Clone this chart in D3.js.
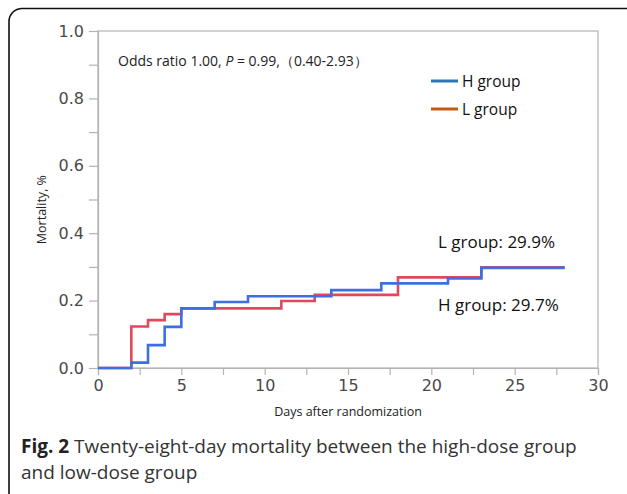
<!DOCTYPE html>
<html>
<head>
<meta charset="utf-8">
<script src="https://cdn.jsdelivr.net/npm/d3@7"></script>
<style>
  body { margin: 0; background: #fff; }
  svg { display: block; }
</style>
</head>
<body>
<div id="chart"></div>
<script>
// step data (day, cumulative mortality)
const hDays = [0, 2, 3, 4, 5, 7, 9, 14, 17, 21, 23, 28];
const hVals = [0, 0.016, 0.068, 0.122, 0.177, 0.196, 0.213, 0.231, 0.251, 0.266, 0.297, 0.297];
const lDays = [0, 2, 3, 4, 5, 11, 13, 18, 23, 28];
const lVals = [0, 0.123, 0.142, 0.160, 0.177, 0.199, 0.217, 0.269, 0.299, 0.299];
const yTicks = [0, 0.2, 0.4, 0.6, 0.8, 1.0];
const xTicks = [0, 5, 10, 15, 20, 25, 30];

const width = 627, height = 494;

let svg = d3.select("#chart").append("svg")
  .attr("width", width)
  .attr("height", height);

// outer rounded frame (runs off the right and bottom edges)
svg.append("rect")
  .attr("x", 9).attr("y", 8.5)
  .attr("width", 660).attr("height", 500)
  .attr("rx", 13)
  .attr("fill", "none")
  .attr("stroke", "#111")
  .attr("stroke-width", 1.6);

let x = d3.scaleLinear().domain([0, 30]).range([98, 598]);
let y = d3.scaleLinear().domain([0, 1]).range([368, 31]);

// plot frame
svg.append("rect")
  .attr("x", x(0)).attr("y", y(1))
  .attr("width", x(30) - x(0)).attr("height", y(0) - y(1))
  .attr("fill", "none")
  .attr("stroke", "#b3b3b3")
  .attr("stroke-width", 1.2);

let yAxis = d3.axisLeft(y)
  .tickValues(d3.range(0, 1.01, 0.1))
  .tickSize(9)
  .tickFormat(d => yTicks.some(t => Math.abs(t - d) < 1e-6) ? d3.format(".1f")(d) : "");

let gy = svg.append("g")
  .attr("transform", `translate(${x(0)},0)`)
  .call(yAxis);

let xAxis = d3.axisBottom(x)
  .tickValues(d3.range(0, 30.01, 2.5))
  .tickSize(7)
  .tickFormat(d => xTicks.includes(d) ? d : "");

let gx = svg.append("g")
  .attr("transform", `translate(0,${y(0)})`)
  .call(xAxis);

[gx, gy].forEach(g => {
  g.select(".domain").attr("stroke", "#b3b3b3").attr("stroke-width", 1.2);
  g.selectAll(".tick line").attr("stroke", "#b3b3b3").attr("stroke-width", 1.2);
  g.selectAll(".tick text")
    .attr("fill", "#4a4a4a")
    .style("font-family", "DejaVu Sans, sans-serif")
    .style("font-size", "16px");
});
gy.selectAll(".tick text").attr("x", -14);
gx.selectAll(".tick text").attr("y", 12);

// axis titles
svg.append("text")
  .attr("x", x(15)).attr("y", 416)
  .attr("text-anchor", "middle")
  .attr("fill", "#222")
  .style("font-family", "Open Sans, sans-serif")
  .style("font-size", "12.5px")
  .text("Days after randomization");

svg.append("text")
  .attr("transform", `translate(46,${y(0.47)}) rotate(-90)`)
  .attr("text-anchor", "middle")
  .attr("fill", "#222")
  .style("font-family", "Open Sans, sans-serif")
  .style("font-size", "12.5px")
  .text("Mortality, %");

// step curves
let line = d3.line()
  .x(d => x(d[0]))
  .y(d => y(d[1]))
  .curve(d3.curveStepAfter);

svg.append("path")
  .datum(d3.zip(lDays, lVals))
  .attr("d", line)
  .attr("fill", "none")
  .attr("stroke", "#e2475b")
  .attr("stroke-width", 2.6);

svg.append("path")
  .datum(d3.zip(hDays, hVals))
  .attr("d", line)
  .attr("fill", "none")
  .attr("stroke", "#3d6fe2")
  .attr("stroke-width", 2.6);

// odds ratio note
let note = svg.append("text")
  .attr("x", 118).attr("y", 66)
  .attr("fill", "#222")
  .style("font-family", "Open Sans, sans-serif")
  .style("font-size", "14px");
note.append("tspan").text("Odds ratio 1.00, ");
note.append("tspan").style("font-style", "italic").text("P");
note.append("tspan").text(" = 0.99,（0.40-2.93）");

// legend
const legend = [
  { name: "H group", color: "#2e75b6" },
  { name: "L group", color: "#c55a11" }
];
let lg = svg.selectAll(".legend")
  .data(legend)
  .enter()
  .append("g")
  .attr("class", "legend")
  .attr("transform", (d, i) => `translate(431, ${81 + i * 28})`);
lg.append("line")
  .attr("x1", 0).attr("x2", 27)
  .attr("stroke", d => d.color)
  .attr("stroke-width", 3);
lg.append("text")
  .attr("x", 31).attr("dy", "0.36em")
  .attr("fill", "#111")
  .style("font-family", "Open Sans, sans-serif")
  .style("font-size", "15.5px")
  .text(d => d.name);

// end labels
svg.append("text")
  .attr("x", 438).attr("y", 248)
  .attr("fill", "#111")
  .style("font-family", "Open Sans, sans-serif")
  .style("font-size", "17px")
  .text("L group: 29.9%");
svg.append("text")
  .attr("x", 438).attr("y", 311)
  .attr("fill", "#111")
  .style("font-family", "Open Sans, sans-serif")
  .style("font-size", "17px")
  .text("H group: 29.7%");

// caption
let cap = svg.append("text")
  .attr("x", 21).attr("y", 453)
  .attr("fill", "#333")
  .style("font-family", "Open Sans, sans-serif")
  .style("font-size", "19px");
cap.append("tspan").style("font-weight", "bold").attr("fill", "#222").text("Fig. 2");
cap.append("tspan").text(" Twenty-eight-day mortality between the high-dose group");
svg.append("text")
  .attr("x", 21).attr("y", 479)
  .attr("fill", "#333")
  .style("font-family", "Open Sans, sans-serif")
  .style("font-size", "19px")
  .text("and low-dose group");
</script>
</body>
</html>
